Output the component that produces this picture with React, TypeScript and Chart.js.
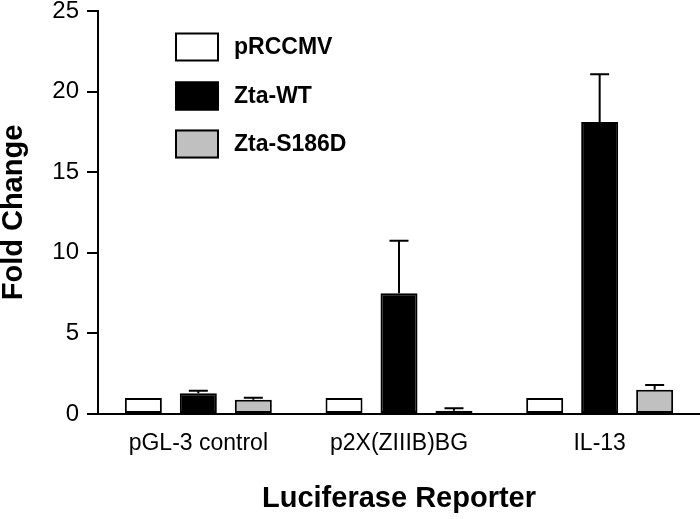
import React, { useEffect, useRef } from "react";
import { Chart, registerables } from "chart.js";

Chart.register(...registerables);

const categories = ["pGL-3 control", "p2X(ZIIIB)BG", "IL-13"];
const seriesNames = ["pRCCMV", "Zta-WT", "Zta-S186D"];
const pRCCMV = [1, 1, 1];
const ztaWT = [1.28, 7.49, 18.12];
const ztaS186D = [0.88, 0.2, 1.5];
const pRCCMVErr: (number | null)[] = [null, null, null];
const ztaWTErr = [0.17, 3.26, 2.95];
const ztaS186DErr = [0.13, 0.15, 0.3];
const yTicks = [0, 5, 10, 15, 20, 25];

const colors = ["#ffffff", "#000000", "#c0c0c0"];
const FONT = "'Liberation Sans', Arial, sans-serif";

const errorBarPlugin = {
  id: "errorBars",
  afterDatasetsDraw(chart: any) {
    const ctx = chart.ctx;
    const y = chart.scales.y;
    const errs = [pRCCMVErr, ztaWTErr, ztaS186DErr];
    const vals = [pRCCMV, ztaWT, ztaS186D];
    ctx.save();
    ctx.strokeStyle = "#000";
    ctx.lineWidth = 2;
    chart.data.datasets.forEach((_ds: any, i: number) => {
      const meta = chart.getDatasetMeta(i);
      meta.data.forEach((el: any, j: number) => {
        const e = errs[i][j];
        if (e == null) return;
        const top = y.getPixelForValue(vals[i][j] + e);
        const x = el.x;
        ctx.beginPath();
        ctx.moveTo(x, el.y);
        ctx.lineTo(x, top);
        ctx.moveTo(x - 9.5, top);
        ctx.lineTo(x + 9.5, top);
        ctx.stroke();
      });
    });
    ctx.restore();
  },
};

const legendPlugin = {
  id: "customLegend",
  afterDraw(chart: any) {
    const ctx = chart.ctx;
    ctx.save();
    const rowsY = [47, 96, 144];
    chart.data.datasets.forEach((ds: any, i: number) => {
      const cy = rowsY[i];
      ctx.fillStyle = ds.backgroundColor;
      ctx.fillRect(175, cy - 14.5, 44, 29);
      ctx.strokeStyle = "#000";
      ctx.lineWidth = 2;
      ctx.strokeRect(176, cy - 13.5, 42, 27);
      ctx.fillStyle = "#000";
      ctx.font = `bold 23px ${FONT}`;
      ctx.textBaseline = "middle";
      ctx.textAlign = "left";
      ctx.fillText(ds.label, 234, cy + 1);
    });
    ctx.restore();
  },
};

export default function App() {
  const ref = useRef<HTMLCanvasElement>(null);
  useEffect(() => {
    if (!ref.current) return;
    const data = [pRCCMV, ztaWT, ztaS186D];
    const chart = new Chart(ref.current, {
      type: "bar",
      data: {
        labels: categories,
        datasets: seriesNames.map((name, i) => ({
          label: name,
          data: data[i],
          backgroundColor: colors[i],
          borderColor: "#000",
          borderWidth: 2,
          borderSkipped: false,
          categoryPercentage: 0.822,
          barPercentage: 0.673,
        })),
      },
      options: {
        animation: false,
        responsive: false,
        devicePixelRatio: 1,
        layout: { padding: { top: 11, left: 0, right: 0, bottom: 0 } },
        plugins: {
          legend: { display: false },
          tooltip: { enabled: false },
        },
        scales: {
          x: {
            grid: { display: false, drawTicks: false },
            border: { display: true, color: "#000", width: 2 },
            ticks: {
              color: "#000",
              font: { family: FONT, size: 23 },
              padding: 16,
              maxRotation: 0,
            },
            title: {
              display: true,
              text: "Luciferase Reporter",
              color: "#000",
              font: { family: FONT, size: 29, weight: "bold" },
              padding: { top: 0, bottom: 3 },
            },
            afterFit: (s: any) => {
              s.height = 105;
              s.paddingLeft = 0;
              s.paddingRight = 0;
            },
          },
          y: {
            min: 0,
            max: 25,
            afterBuildTicks: (s: any) => {
              s.ticks = yTicks.map((v) => ({ value: v }));
            },
            grid: {
              display: true,
              drawOnChartArea: false,
              drawTicks: true,
              tickLength: 11,
              color: "#000",
              lineWidth: 2,
            },
            border: { display: true, color: "#000", width: 2 },
            ticks: {
              color: "#000",
              font: { family: FONT, size: 24 },
              padding: 8,
            },
            title: {
              display: true,
              text: "Fold Change",
              color: "#000",
              font: { family: FONT, size: 29, weight: "bold", lineHeight: 1 },
              padding: -1,
            },
            afterFit: (s: any) => {
              s.width = 98;
              s.paddingTop = 0;
              s.paddingBottom = 0;
            },
          },
        },
      },
      plugins: [errorBarPlugin, legendPlugin],
    });
    return () => chart.destroy();
  }, []);
  return (
    <div style={{ position: "absolute", left: 0, top: 0, width: 700, height: 519, background: "#fff" }}>
      <canvas ref={ref} width={700} height={519} />
    </div>
  );
}
